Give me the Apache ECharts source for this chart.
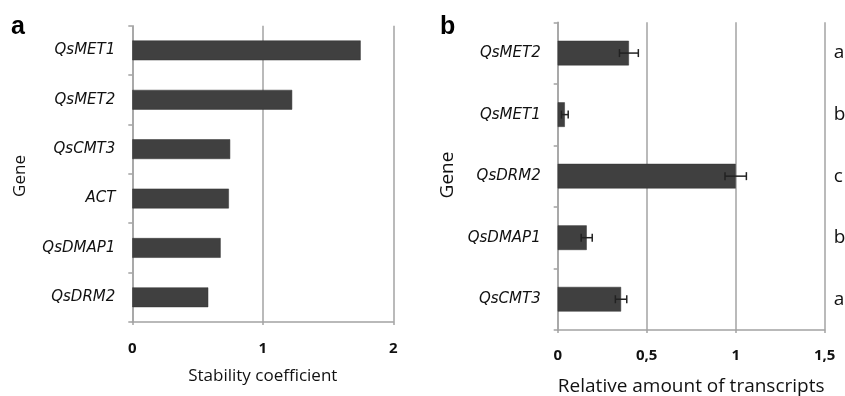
<!DOCTYPE html>
<html><head><meta charset="utf-8">
<script src="https://cdn.jsdelivr.net/npm/echarts@6/dist/echarts.min.js"></script>
<style>html,body{margin:0;padding:0;background:#fff}#c{width:845px;height:396px}</style>
</head><body><div id="c"></div>
<script>
// Panel a: stability coefficient
const genesA = ['QsMET1','QsMET2','QsCMT3','ACT','QsDMAP1','QsDRM2'];
const stability = [1.75, 1.225, 0.75, 0.74, 0.677, 0.582];
const ticksA = [0, 1, 2];
// Panel b: relative amount of transcripts
const genesB = ['QsMET2','QsMET1','QsDRM2','QsDMAP1','QsCMT3'];
const transcripts = [0.40, 0.04, 1.00, 0.163, 0.356];
const transcriptErr = [0.053, 0.019, 0.06, 0.031, 0.032];
const sigLetters = ['a','b','c','b','a'];
const ticksB = ['0','0,5','1','1,5'];

const LINE = '#a3a3a3', BAR = '#404040', TXT = '#111';
const FONT = '"Open Sans", "Liberation Sans", sans-serif';
const CATFONT = '"DejaVu Sans", sans-serif';

const chart = echarts.init(document.getElementById('c'), null, {renderer:'canvas'});

function catAxis(gridIndex, data, extra) {
  return Object.assign({
    type:'category', gridIndex, data, inverse:true,
    axisLine:{show:true, lineStyle:{color:LINE, width:1.5}},
    axisTick:{show:true, length:4, lineStyle:{color:LINE, width:1.5}},
    axisLabel:{fontStyle:'italic', fontSize:15, color:TXT, fontFamily:CATFONT, margin:17},
    splitLine:{show:false}
  }, extra || {});
}
function valAxis(gridIndex, min, max, interval, fmt, name, nameGap, nameSize, margin) {
  return {
    type:'value', gridIndex, min, max, interval,
    axisLine:{show:true, lineStyle:{color:LINE, width:1.5}},
    axisTick:{show:true, length:3, lineStyle:{color:LINE, width:1.5}},
    axisLabel:{fontSize:15, fontWeight:'bold', color:TXT, fontFamily:FONT, margin, formatter:fmt},
    splitLine:{show:true, lineStyle:{color:LINE, width:1.5}},
    name, nameLocation:'middle', nameGap,
    nameTextStyle:{fontSize:nameSize, color:TXT, fontFamily:FONT}
  };
}

chart.setOption({
  animation:false,
  backgroundColor:'#fff',
  grid:[
    {left:132.3, width:261, top:25.7, height:296.3, outerBoundsMode:'none', containLabel:false},
    {left:557.7, width:267, top:22.3, height:307.7, outerBoundsMode:'none', containLabel:false}
  ],
  xAxis:[
    valAxis(0, ticksA[0], ticksA[ticksA.length-1], 1, v => String(v), 'Stability coefficient', 46, 17, 19),
    valAxis(1, 0, 1.5, 0.5, v => ticksB[Math.round(v/0.5)], 'Relative amount of transcripts', 47, 19, 18)
  ],
  yAxis:[
    catAxis(0, genesA),
    catAxis(1, genesB),
    catAxis(1, sigLetters, {position:'right', axisLine:{show:false}, axisTick:{show:false},
      axisLabel:{fontSize:19, color:TXT, fontFamily:FONT, margin:9, align:'left'}})
  ],
  graphic:[
    {type:'text', x:11, y:26.7, style:{text:'a', font:'bold 25px "Liberation Sans", Arial, sans-serif', fill:'#000', verticalAlign:'middle'}},
    {type:'text', x:440, y:26.7, style:{text:'b', font:'bold 25px "Liberation Sans", Arial, sans-serif', fill:'#000', verticalAlign:'middle'}},
    {type:'text', x:20, y:176, rotation:Math.PI/2, style:{text:'Gene', font:'17px "Open Sans", sans-serif', fill:TXT, align:'center', verticalAlign:'middle'}},
    {type:'text', x:448, y:175, rotation:Math.PI/2, style:{text:'Gene', font:'19px "Open Sans", sans-serif', fill:TXT, align:'center', verticalAlign:'middle'}}
  ],
  series:[
    {type:'bar', xAxisIndex:0, yAxisIndex:0, data:stability, barWidth:'40%',
     itemStyle:{color:BAR, borderColor:'#333', borderWidth:0.5}},
    {type:'bar', xAxisIndex:1, yAxisIndex:1, data:transcripts, barWidth:'40%',
     itemStyle:{color:BAR, borderColor:'#333', borderWidth:0.5}},
    {type:'custom', xAxisIndex:1, yAxisIndex:1, z:5,
     data: transcripts.map((v,i) => [i, v - transcriptErr[i], v + transcriptErr[i]]),
     encode:{y:0, x:[1,2]},
     renderItem: function(params, api){
       const idx = api.value(0);
       const lo = api.coord([api.value(1), idx]);
       const hi = api.coord([api.value(2), idx]);
       const h = 4;
       const st = {stroke:'#222', lineWidth:1.5};
       return {type:'group', children:[
         {type:'line', shape:{x1:lo[0], y1:lo[1], x2:hi[0], y2:hi[1]}, style:st},
         {type:'line', shape:{x1:lo[0], y1:lo[1]-h, x2:lo[0], y2:lo[1]+h}, style:st},
         {type:'line', shape:{x1:hi[0], y1:hi[1]-h, x2:hi[0], y2:hi[1]+h}, style:st}
       ]};
     }}
  ]
});
</script></body></html>
